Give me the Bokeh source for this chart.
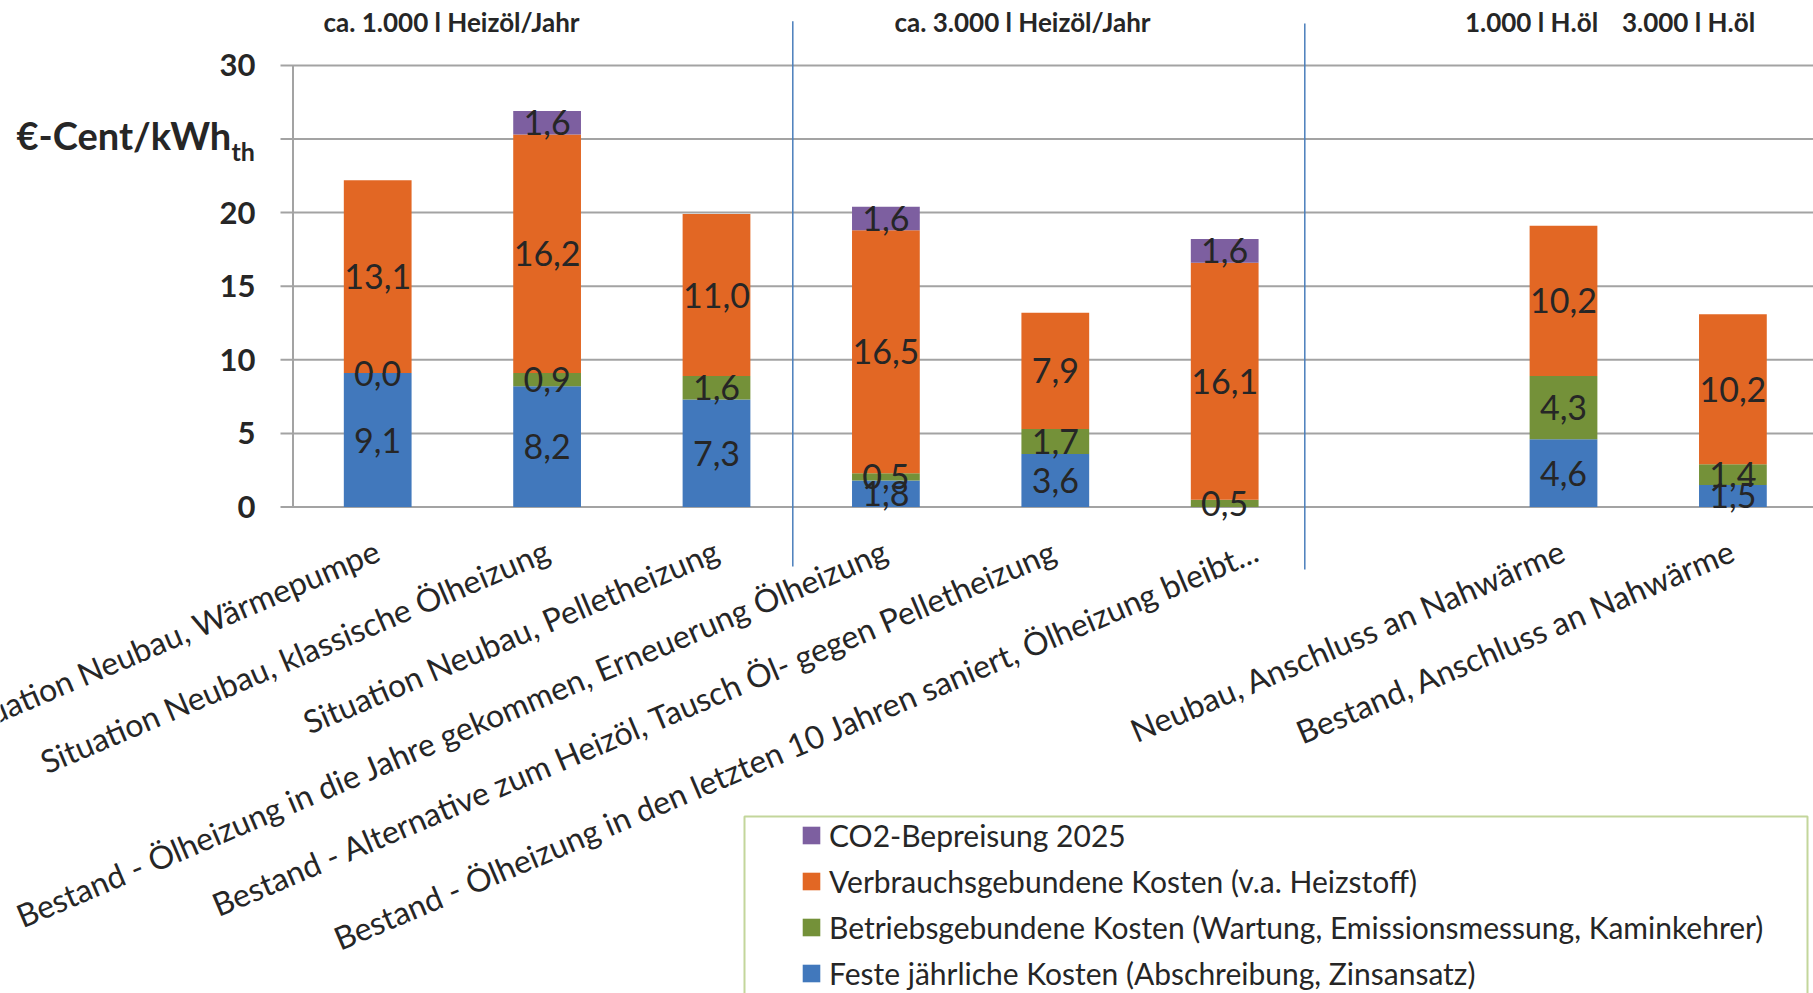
import math
from bokeh.plotting import figure
from bokeh.models import Range1d, Legend, LegendItem, ColumnDataSource
from bokeh.core.properties import value
from bokeh.embed import file_html
from bokeh.resources import INLINE

# ---------------- data ----------------
categories = [
    "Situation Neubau, Wärmepumpe",
    "Situation Neubau, klassische Ölheizung",
    "Situation Neubau, Pelletheizung",
    "Bestand - Ölheizung in die Jahre gekommen, Erneuerung Ölheizung",
    "Bestand - Alternative zum Heizöl, Tausch Öl- gegen Pelletheizung",
    "Bestand - Ölheizung in den letzten 10 Jahren saniert, Ölheizung bleibt...",
    "",
    "Neubau, Anschluss an Nahwärme",
    "Bestand, Anschluss an Nahwärme",
]
feste = [9.1, 8.2, 7.3, 1.8, 3.6, None, None, 4.6, 1.5]
betrieb = [0.0, 0.9, 1.6, 0.5, 1.7, 0.5, None, 4.3, 1.4]
verbrauch = [13.1, 16.2, 11.0, 16.5, 7.9, 16.1, None, 10.2, 10.2]
co2 = [None, 1.6, None, 1.6, None, 1.6, None, None, None]

series_names = [
    "Feste jährliche Kosten (Abschreibung, Zinsansatz)",
    "Betriebsgebundene Kosten (Wartung, Emissionsmessung, Kaminkehrer)",
    "Verbrauchsgebundene Kosten (v.a. Heizstoff)",
    "CO2-Bepreisung 2025",
]
group_headers = ["ca. 1.000 l Heizöl/Jahr", "ca. 3.000 l Heizöl/Jahr", "1.000 l H.öl", "3.000 l H.öl"]
y_tick_values = [0, 5, 10, 15, 20, 30]
y_grid_values = [0, 5, 10, 15, 20, 25, 30]
unit_main = "€-Cent/kWh"
unit_sub = "th"

# ---------------- layout / style ----------------
FONT = "Lato"
TEXT = "#262626"
colors = ["#4178BC", "#749139", "#E26724", "#7D5FA0"]
SEP_COLOR = "#4A7EBB"
GRID_COLOR = "#A3A3A3"
W, H = 1813, 993
X0_PX, Y0_PX = 292.5, 506.5      # canvas pixel of data x=0 / y=0
PXU_X, PXU_Y = 169.4, 14.72      # pixels per data unit
CAT_LABEL_DX = [0, 0, 0, 0, 0, 32, 0, 0, 0]   # label end offsets in px


def px_x(px):
    return (px - X0_PX) / PXU_X


def px_y(py):
    return (Y0_PX - py) / PXU_Y


x_start, x_end = px_x(0), px_x(W)
y_end, y_start = px_y(0), px_y(H)

p = figure(width=W, height=H, output_backend="svg", toolbar_location=None,
           x_range=Range1d(x_start, x_end), y_range=Range1d(y_start, y_end),
           min_border=0)
p.outline_line_color = None
p.background_fill_color = "white"
p.border_fill_color = "white"
p.xaxis.visible = False
p.yaxis.visible = False
p.grid.visible = False

# gridlines (start a little left of the value axis, like tick marks)
grid_left = px_x(280)
p.segment(x0=[grid_left] * len(y_grid_values), y0=y_grid_values,
          x1=[x_end] * len(y_grid_values), y1=y_grid_values,
          line_color=GRID_COLOR, line_width=2)
# value axis line
p.segment(x0=[0], y0=[0], x1=[0], y1=[max(y_grid_values)], line_color=GRID_COLOR, line_width=2)

# value axis tick labels
p.text(x=[px_x(255)] * len(y_tick_values), y=y_tick_values, text=[str(v) for v in y_tick_values],
       text_align="right", text_baseline="middle", text_font=value(FONT),
       text_font_style="bold", text_font_size="31px", text_color=TEXT)

# unit label
p.text(x=[px_x(16)], y=[px_y(134)], text=[unit_main], text_align="left", text_baseline="middle",
       text_font=value(FONT), text_font_style="bold", text_font_size="38px", text_color=TEXT)
p.text(x=[px_x(231)], y=[px_y(150)], text=[unit_sub], text_align="left", text_baseline="middle",
       text_font=value(FONT), text_font_style="bold", text_font_size="25px", text_color=TEXT)

# separators
sep_x = [px_x(792.3), px_x(1304.3)]
p.segment(x0=sep_x, y0=[px_y(566), px_y(569)], x1=sep_x, y1=[px_y(20.8), px_y(23)],
          line_color=SEP_COLOR, line_width=1.5)

# stacked bars
centers = [i + 0.5 for i in range(len(categories))]
series = [feste, betrieb, verbrauch, co2]
bottom = [0.0] * len(categories)
renderers = []
lab_x, lab_y, lab_t = [], [], []
for vals, col in zip(series, colors):
    b = list(bottom)
    t = [bb + (v or 0.0) for bb, v in zip(b, vals)]
    src = ColumnDataSource(dict(x=centers, bottom=b, top=t))
    r = p.vbar(x="x", bottom="bottom", top="top", width=0.40, source=src,
               fill_color=col, line_color=None)
    renderers.append(r)
    for c, bb, tt, v in zip(centers, b, t, vals):
        if v is not None:
            lab_x.append(c)
            lab_y.append((bb + tt) / 2)
            lab_t.append(f"{v:.1f}".replace(".", ","))
    bottom = t

p.text(x=lab_x, y=lab_y, text=lab_t, text_align="center", text_baseline="middle",
       text_font=value(FONT), text_font_size="34px", text_color=TEXT)

# category labels (rotated)
cat_src = ColumnDataSource(dict(
    x=[c for c, n in zip(centers, categories) if n],
    y=[px_y(548)] * sum(1 for n in categories if n),
    text=[n for n in categories if n],
    dx=[d for d, n in zip(CAT_LABEL_DX, categories) if n],
))
p.text(x="x", y="y", text="text", x_offset="dx", source=cat_src, angle=math.radians(23),
       text_align="right", text_baseline="middle", text_font=value(FONT),
       text_font_size="32px", text_color=TEXT)

# group headers
hdr_x = [px_x(451), px_x(1022), px_x(1531), px_x(1688)]
p.text(x=hdr_x, y=[px_y(21.7)] * 4, text=group_headers, text_align="center", text_baseline="middle",
       text_font=value(FONT), text_font_style="bold", text_font_size="26px", text_color=TEXT)

# legend frame
p.quad(left=[px_x(744)], right=[px_x(1807)], top=[px_y(816)], bottom=[px_y(1100)],
       fill_color="white", line_color="#C3D69B", line_width=2)

# legend
items = [LegendItem(label=n, renderers=[r]) for n, r in zip(series_names, renderers)][::-1]
legend = Legend(items=items, location=(800, 2), padding=10, spacing=10,
                glyph_width=22, glyph_height=22, label_height=36, label_standoff=7,
                label_text_font=FONT, label_text_font_size="30px", label_text_color=TEXT,
                border_line_color=None, background_fill_alpha=0.0)
p.add_layout(legend, "center")

open("out.html", "w").write(file_html(p, INLINE))
